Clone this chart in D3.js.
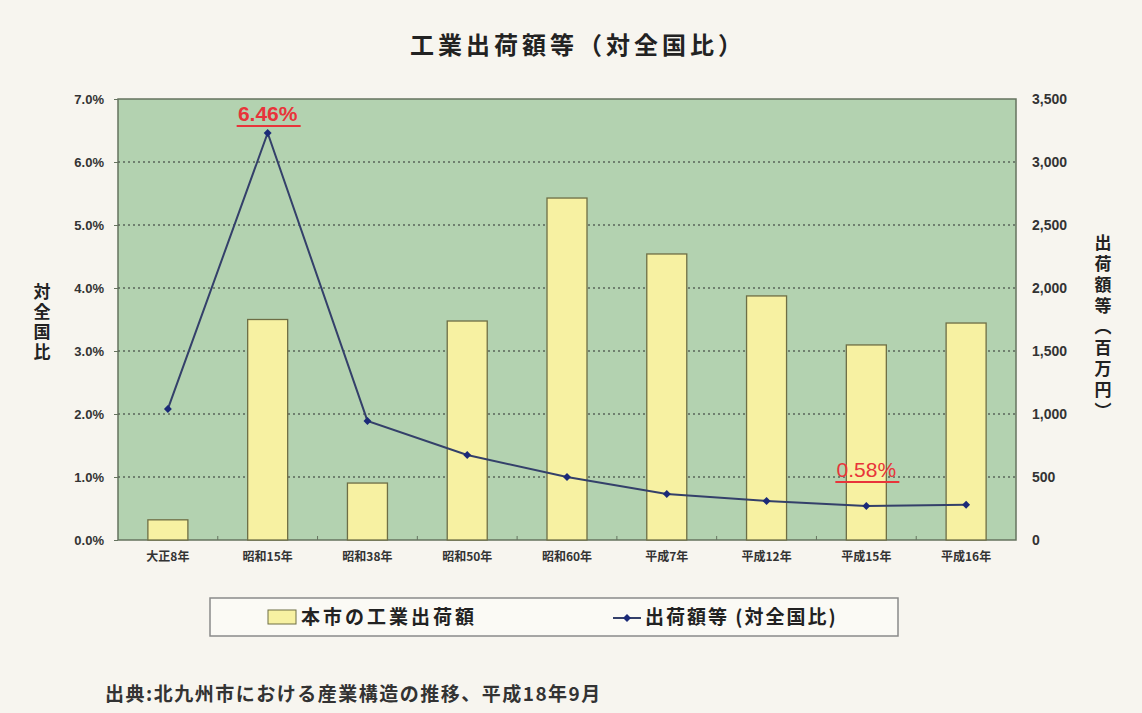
<!DOCTYPE html>
<html>
<head>
<meta charset="utf-8">
<script src="https://cdn.jsdelivr.net/npm/d3@7"></script>
<style>
  body { margin: 0; background: #f7f5ef; }
  text { font-family: "Liberation Sans", "Noto Sans CJK JP", sans-serif; }
  .jp { font-family: "Noto Sans CJK JP", sans-serif; }
</style>
</head>
<body>
<script>
// Global variable
const w = 1142;
const h = 713;

// data
const years = ["大正8年", "昭和15年", "昭和38年", "昭和50年", "昭和60年", "平成7年", "平成12年", "平成15年", "平成16年"];
const shipments = [160, 1750, 452, 1738, 2714, 2270, 1937, 1548, 1722];   // 百万円 (right axis)
const share = [2.08, 6.46, 1.89, 1.35, 1.00, 0.73, 0.62, 0.54, 0.56];     // % (left axis)
const leftTicks = [0, 1, 2, 3, 4, 5, 6, 7];
const rightTicks = [0, 500, 1000, 1500, 2000, 2500, 3000, 3500];
const callouts = [{ i: 1, label: "6.46%" }, { i: 7, label: "0.58%" }];

const plot = { left: 118, right: 1016, top: 99, bottom: 540 };

let svg = d3.select("body")
            .append("svg")
                .attr("width", w)
                .attr("height", h);

const x = d3.scaleBand()
        .domain(years)
        .range([plot.left, plot.right]);

const yL = d3.scaleLinear()
        .domain([0, 7])
        .range([plot.bottom, plot.top]);

const yR = d3.scaleLinear()
        .domain([0, 3500])
        .range([plot.bottom, plot.top]);

// title
svg.append("text")
    .attr("class", "jp")
    .attr("x", 578).attr("y", 54)
    .attr("text-anchor", "middle")
    .attr("font-size", 24).attr("font-weight", "bold")
    .attr("fill", "#222")
    .attr("letter-spacing", 4)
    .text("工業出荷額等（対全国比）");

// plot background
svg.append("rect")
    .attr("x", plot.left).attr("y", plot.top)
    .attr("width", plot.right - plot.left).attr("height", plot.bottom - plot.top)
    .attr("fill", "#b3d2b0")
    .attr("stroke", "#66735f").attr("stroke-width", 1.5);

// gridlines
svg.append("g")
    .selectAll("line")
    .data(leftTicks.slice(1, -1))
    .enter()
    .append("line")
    .attr("x1", plot.left).attr("x2", plot.right)
    .attr("y1", (d) => yL(d)).attr("y2", (d) => yL(d))
    .attr("stroke", "#59665a").attr("stroke-width", 1.3)
    .attr("stroke-dasharray", "2,3");

// left axis
let axL = svg.append("g")
    .attr("transform", "translate(" + plot.left + ",0)")
    .call(d3.axisLeft(yL).tickValues(leftTicks).tickSize(4).tickFormat((d) => d.toFixed(1) + "%"));
axL.select(".domain").remove();
axL.selectAll("line").attr("stroke", "#66735f");
axL.selectAll("text")
    .attr("x", -14)
    .attr("font-size", 13).attr("font-weight", "bold").attr("fill", "#333");

// right axis
let axR = svg.append("g")
    .attr("transform", "translate(" + plot.right + ",0)")
    .call(d3.axisRight(yR).tickValues(rightTicks).tickSize(0).tickFormat(d3.format(",")));
axR.select(".domain").remove();
axR.selectAll("text")
    .attr("x", 16)
    .attr("font-size", 14).attr("font-weight", "bold").attr("fill", "#333");

// x axis ticks (band boundaries)
svg.append("g")
    .selectAll("line")
    .data(years.slice(1))
    .enter()
    .append("line")
    .attr("x1", (d) => x(d)).attr("x2", (d) => x(d))
    .attr("y1", plot.bottom).attr("y2", plot.bottom - 4)
    .attr("stroke", "#66735f");

svg.append("g")
    .selectAll("text")
    .data(years)
    .enter()
    .append("text")
    .attr("class", "jp")
    .attr("x", (d) => x(d) + x.bandwidth() / 2)
    .attr("y", 561)
    .attr("text-anchor", "middle")
    .attr("font-size", 12).attr("font-weight", "bold").attr("fill", "#333")
    .text((d) => d);

// bars
const bw = 40;
svg.append("g")
    .selectAll("rect")
    .data(shipments)
    .enter()
    .append("rect")
    .attr("x", (d, i) => x(years[i]) + x.bandwidth() / 2 - bw / 2)
    .attr("y", (d) => yR(d))
    .attr("width", bw)
    .attr("height", (d) => plot.bottom - yR(d))
    .attr("fill", "#f7f1a2")
    .attr("stroke", "#6e6e45").attr("stroke-width", 1.3);

// line
const line = d3.line()
    .x((d, i) => x(years[i]) + x.bandwidth() / 2)
    .y((d) => yL(d));

svg.append("path")
    .datum(share)
    .attr("d", line)
    .attr("fill", "none")
    .attr("stroke", "#34406a").attr("stroke-width", 2);

svg.append("g")
    .selectAll("path")
    .data(share)
    .enter()
    .append("path")
    .attr("d", d3.symbol(d3.symbolDiamond2, 40))
    .attr("transform", (d, i) => "translate(" + (x(years[i]) + x.bandwidth() / 2) + "," + yL(d) + ")")
    .attr("fill", "#1b2a78");

// callouts
callouts.forEach((c) => {
    const cx = x(years[c.i]) + x.bandwidth() / 2;
    const cy = yL(share[c.i]);
    const big = c.i == 1;
    svg.append("text")
        .attr("x", cx).attr("y", cy - (big ? 12 : 29))
        .attr("text-anchor", "middle")
        .attr("font-size", big ? 21 : 21)
        .attr("font-weight", big ? "bold" : "normal")
        .attr("fill", "#e8343a")
        .text(c.label);
    svg.append("line")
        .attr("x1", cx - 31).attr("x2", cx + 33)
        .attr("y1", cy - (big ? 7 : 24)).attr("y2", cy - (big ? 7 : 24))
        .attr("stroke", "#e8343a").attr("stroke-width", 2);
});

// axis titles (vertical)
svg.append("text")
    .attr("class", "jp")
    .attr("transform", "translate(42,283)")
    .attr("writing-mode", "vertical-rl")
    .attr("font-size", 17).attr("font-weight", "bold").attr("fill", "#222")
    .attr("letter-spacing", 3)
    .text("対全国比");

svg.append("text")
    .attr("class", "jp")
    .attr("transform", "translate(1103,234)")
    .attr("writing-mode", "vertical-rl")
    .attr("font-size", 17).attr("font-weight", "bold").attr("fill", "#222")
    .attr("letter-spacing", 4)
    .text("出荷額等（百万円）");

// legend
svg.append("rect")
    .attr("x", 210).attr("y", 598)
    .attr("width", 688).attr("height", 38)
    .attr("fill", "#fbfaf5")
    .attr("stroke", "#8a8a8a").attr("stroke-width", 1.5);

svg.append("rect")
    .attr("x", 268).attr("y", 610)
    .attr("width", 28).attr("height", 14)
    .attr("fill", "#f7f1a2")
    .attr("stroke", "#6e6e45");

svg.append("text")
    .attr("class", "jp")
    .attr("x", 301).attr("y", 624)
    .attr("font-size", 19).attr("font-weight", "bold").attr("fill", "#222")
    .attr("letter-spacing", 3)
    .text("本市の工業出荷額");

svg.append("line")
    .attr("x1", 613).attr("x2", 641)
    .attr("y1", 618).attr("y2", 618)
    .attr("stroke", "#34406a").attr("stroke-width", 2);

svg.append("path")
    .attr("d", d3.symbol(d3.symbolDiamond2, 40))
    .attr("transform", "translate(627,618)")
    .attr("fill", "#1b2a78");

svg.append("text")
    .attr("class", "jp")
    .attr("x", 645).attr("y", 624)
    .attr("font-size", 19).attr("font-weight", "bold").attr("fill", "#222")
    .attr("letter-spacing", 2)
    .text("出荷額等 (対全国比)");

// source
svg.append("text")
    .attr("class", "jp")
    .attr("x", 105).attr("y", 701)
    .attr("font-size", 19).attr("font-weight", "bold").attr("fill", "#333")
    .attr("letter-spacing", 1.5)
    .text("出典:北九州市における産業構造の推移、平成18年9月");
</script>
</body>
</html>
